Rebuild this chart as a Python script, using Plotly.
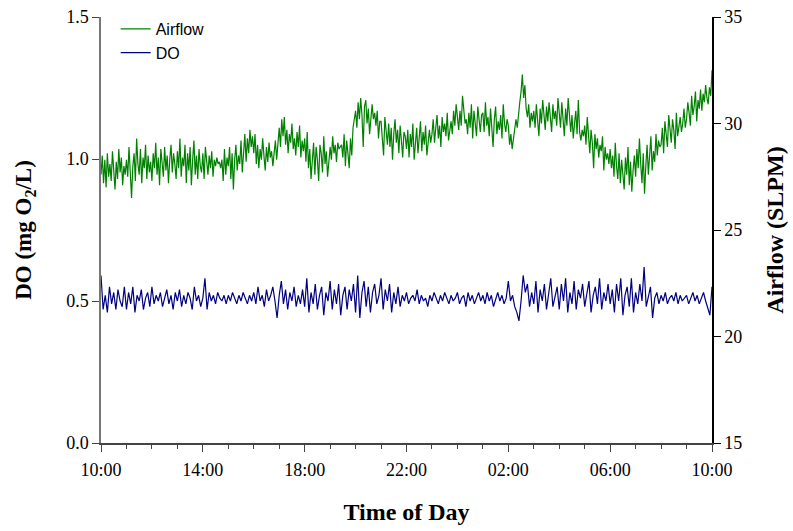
import plotly.graph_objects as go
import pandas as pd

# Airflow (SLPM), 3-minute samples from 10:00 to 10:00 next day (20 per hour)
airflow = [
    27.6, 28.5, 27.2, 28.3, 27.0, 28.6, 27.5, 28.1, 27.3, 28.7, 27.8, 26.9, 28.2, 27.4, 28.8, 27.7, 28.4, 27.1, 28.0, 27.6,
    28.3, 27.5, 28.9, 27.8, 26.5, 28.0, 28.6, 27.3, 29.3, 28.1, 27.6, 28.8, 27.2, 28.4, 27.9, 29.0, 27.4, 28.5, 27.7, 28.2,
    27.3, 28.6, 27.9, 29.1, 27.6, 28.4, 27.1, 28.8, 28.2, 27.5, 28.9, 27.8, 28.5, 27.2, 28.3, 29.0, 27.7, 28.6, 28.1, 27.4,
    28.7, 27.9, 29.3, 27.5, 28.4, 28.0, 29.0, 27.2, 28.6, 27.8, 28.9, 27.1, 28.3, 29.2, 27.6, 28.5, 27.4, 28.8, 28.0, 27.7,
    28.6, 27.4, 28.9, 28.1, 27.6, 28.5, 27.9, 28.7, 27.5, 28.3, 28.0, 28.4, 28.1, 28.2, 27.9, 28.3, 27.3, 28.8, 27.6, 28.4,
    28.0, 28.9, 27.4, 28.6, 26.9, 28.3, 29.0, 27.8, 28.5, 28.1, 29.2, 27.7, 28.8, 29.5, 28.2, 29.3, 28.6, 29.7, 28.9, 29.4,
    28.6, 29.5, 28.1, 29.0, 27.9, 28.8, 28.3, 29.3, 28.5, 27.8, 28.9, 28.2, 29.1, 28.4, 28.7, 28.0, 28.6, 29.2, 28.3, 29.0,
    29.8, 28.9, 30.2, 29.4, 30.3, 29.0, 29.7, 28.6, 29.5, 29.1, 30.0, 28.8, 29.3, 28.5, 29.6, 28.9, 29.9, 28.4, 29.2, 28.7,
    29.3, 28.2, 29.6, 27.9, 28.8, 27.4, 28.5, 29.1, 27.6, 28.9, 28.3, 27.3, 29.0, 28.6, 27.7, 29.4, 28.1, 28.7, 27.5, 28.4,
    28.9, 28.3, 29.4, 28.6, 29.0, 28.2, 29.1, 28.8, 28.9, 29.0, 28.4, 29.5, 28.0, 29.2, 28.6, 27.9, 29.3, 28.5, 29.8, 30.3,
    30.6, 29.8, 31.0, 30.2, 31.2, 30.4, 28.9, 30.8, 31.1, 30.0, 30.7, 29.5, 30.4, 30.9, 30.2, 30.5, 29.9, 30.6, 29.3, 30.1,
    30.1, 29.3, 28.5, 30.3, 29.6, 29.0, 30.0, 28.9, 29.8, 28.3, 29.5, 30.2, 29.1, 29.7, 28.6, 29.9, 29.2, 28.4, 29.6, 29.4,
    28.8, 29.7, 28.4, 29.5, 28.9, 30.0, 28.3, 29.2, 29.8, 28.6, 29.4, 30.1, 28.7, 29.6, 29.0, 29.9, 28.5, 29.3, 29.7, 29.1,
    29.5, 30.2, 29.1, 29.8, 30.4, 29.3, 29.9, 28.9, 30.3, 29.6, 30.0, 29.4, 30.5, 29.2, 29.8, 30.1, 29.5, 30.6, 29.9, 30.9,
    30.3, 29.7, 30.6, 29.9, 31.3, 30.4, 30.0, 30.2, 29.5, 30.5, 29.8, 30.9, 29.3, 30.6, 30.0, 29.4, 30.8, 30.1, 29.6, 30.4,
    30.5, 29.6, 31.0, 29.9, 30.3, 29.4, 30.7, 29.8, 28.9, 30.2, 30.8, 29.5, 30.1, 29.7, 30.4, 29.3, 30.9, 30.0, 29.6, 30.2,
    29.9, 29.0, 29.5, 28.8, 29.3, 29.7, 30.2, 29.8, 30.6, 31.0, 31.5, 32.3, 31.2, 31.8, 30.7, 30.3, 30.9, 29.8, 30.5, 30.1,
    30.6, 29.8, 30.9, 30.2, 29.4, 30.7, 30.0, 31.1, 30.3, 29.7, 30.8, 30.1, 31.0, 30.4, 29.6, 30.9, 30.2, 30.6, 29.9, 31.2,
    30.5, 29.8, 31.0, 30.1, 29.4, 30.7, 29.9, 31.2, 30.3, 29.6, 30.4, 29.3, 30.0, 30.6, 29.5, 31.1, 29.6, 29.2, 29.7, 29.4,
    29.9, 29.0, 30.3, 29.4, 28.6, 29.7, 29.1, 27.9, 29.5, 28.8, 29.3, 28.4, 29.0, 28.7, 29.4, 27.8, 28.9, 28.3, 28.6, 28.1,
    28.8, 27.9, 28.5, 27.5, 29.1, 28.0, 27.4, 28.6, 27.2, 28.3, 27.7, 26.9, 28.4, 27.6, 28.9, 27.1, 28.2, 26.8, 27.8, 28.5,
    27.5, 28.8, 27.9, 29.3, 28.1, 27.2, 28.6, 26.7, 28.0, 29.0, 27.6, 28.4, 29.4, 27.8, 28.7, 28.2, 29.5, 28.5, 29.2, 28.9,
    29.0, 29.8, 28.6, 30.1, 29.3, 28.9, 30.4, 29.5, 29.1, 30.2, 29.7, 28.8, 30.5, 29.4, 29.9, 30.3, 29.6, 30.0, 30.7, 29.8,
    30.2, 31.0, 30.5, 29.9, 31.3, 30.4, 30.8, 31.5, 30.1, 31.1, 30.7, 31.6, 30.6, 31.4, 31.0, 31.8, 31.2, 30.9, 31.7, 31.3,
    32.5,
]

# DO (mg O2/L), 5-minute samples from 10:00 to 10:00 next day (12 per hour)
do_vals = [
    0.59, 0.47, 0.52, 0.46, 0.55, 0.49, 0.53, 0.47, 0.54, 0.50, 0.48, 0.55,
    0.47, 0.53, 0.49, 0.55, 0.46, 0.52, 0.50, 0.54, 0.47, 0.51, 0.53, 0.48,
    0.55, 0.49, 0.52, 0.50, 0.53, 0.48, 0.51, 0.54, 0.49, 0.52, 0.47, 0.53,
    0.50, 0.54, 0.48, 0.52, 0.49, 0.53, 0.51, 0.47, 0.55, 0.50, 0.52, 0.48,
    0.51, 0.58, 0.47, 0.53, 0.50, 0.52, 0.49, 0.53, 0.51, 0.50, 0.52, 0.49,
    0.52, 0.50, 0.53, 0.51, 0.49, 0.52, 0.50, 0.53, 0.51, 0.49, 0.52, 0.50,
    0.53, 0.49, 0.55, 0.50, 0.52, 0.48, 0.54, 0.50, 0.52, 0.55, 0.50, 0.44,
    0.52, 0.57, 0.49, 0.54, 0.47, 0.53, 0.50, 0.55, 0.48, 0.52, 0.49, 0.54,
    0.48, 0.58, 0.46, 0.53, 0.49, 0.56, 0.47, 0.52, 0.55, 0.45, 0.53, 0.50,
    0.57, 0.47, 0.54, 0.49, 0.56, 0.45, 0.52, 0.55, 0.47, 0.54, 0.50, 0.56,
    0.46, 0.59, 0.44, 0.53, 0.57, 0.48, 0.55, 0.46, 0.53, 0.56, 0.49, 0.52,
    0.58, 0.47, 0.54, 0.50, 0.56, 0.46, 0.53, 0.49, 0.55, 0.48, 0.52, 0.50,
    0.53, 0.49, 0.51, 0.52, 0.50, 0.54, 0.49, 0.52, 0.50, 0.51, 0.48, 0.52,
    0.50, 0.53, 0.51, 0.49, 0.52, 0.50, 0.53, 0.51, 0.49, 0.52, 0.50, 0.51,
    0.53, 0.49, 0.51, 0.52, 0.48, 0.53, 0.50, 0.52, 0.49, 0.51, 0.53, 0.50,
    0.52, 0.49, 0.53, 0.50, 0.52, 0.48, 0.51, 0.53, 0.50, 0.52, 0.49, 0.51,
    0.57, 0.50, 0.52, 0.48, 0.46, 0.43, 0.50, 0.59, 0.53, 0.56, 0.48, 0.53,
    0.49, 0.57, 0.46, 0.54, 0.50, 0.56, 0.47, 0.53, 0.58, 0.48, 0.52, 0.55,
    0.47, 0.56, 0.50, 0.58, 0.46, 0.53, 0.49, 0.57, 0.47, 0.54, 0.51, 0.56,
    0.48, 0.53, 0.57, 0.46, 0.52, 0.55, 0.49, 0.58, 0.47, 0.53, 0.50, 0.56,
    0.49, 0.54, 0.46, 0.56, 0.50, 0.58, 0.45, 0.52, 0.55, 0.48, 0.58, 0.46,
    0.53, 0.49, 0.56, 0.50, 0.62, 0.48, 0.52, 0.55, 0.44, 0.51, 0.53, 0.49,
    0.52, 0.50, 0.53, 0.49, 0.51, 0.52, 0.50, 0.53, 0.49, 0.52, 0.50, 0.51,
    0.52, 0.49, 0.51, 0.53, 0.50, 0.52, 0.49, 0.51, 0.53, 0.50, 0.47, 0.45,
    0.55,
]

start = pd.Timestamp("2000-01-01 10:00")
end = pd.Timestamp("2000-01-02 10:00")
t_air = pd.date_range(start, end, periods=len(airflow))
t_do = pd.date_range(start, end, periods=len(do_vals))

serif = "Liberation Serif, Times New Roman, serif"

fig = go.Figure()
fig.add_trace(go.Scatter(x=t_air, y=airflow, name="Airflow", mode="lines",
                         line=dict(color="#008000", width=1.2), yaxis="y2"))
fig.add_trace(go.Scatter(x=t_do, y=do_vals, name="DO", mode="lines",
                         line=dict(color="#000080", width=1.2), yaxis="y"))

fig.update_layout(
    width=793, height=531,
    margin=dict(l=101, r=81, t=15, b=88),
    paper_bgcolor="white", plot_bgcolor="white",
    showlegend=True,
    legend=dict(x=0.024, y=1.012, xanchor="left", yanchor="top",
                bgcolor="rgba(0,0,0,0)", font=dict(family="Liberation Sans, Arial", size=16, color="black"),
                tracegroupgap=0, itemwidth=30),
    xaxis=dict(
        type="date", range=[start, end], automargin=False,
        tickformat="%H:%M", dtick=4 * 3600000, tick0=start,
        ticks="outside", ticklen=7, tickwidth=1, tickcolor="#444",
        minor=dict(dtick=3600000, ticks="outside", ticklen=4, tickcolor="#444", showgrid=False),
        showline=True, linecolor="#444", linewidth=1.5,
        showgrid=False, zeroline=False, ticklabelstandoff=3,
        tickfont=dict(family=serif, size=18, color="black"),
        title=dict(text="<b>Time of Day</b>", font=dict(family=serif, size=24, color="black"), standoff=24),
    ),
    yaxis=dict(
        range=[0, 1.5], tickvals=[0, 0.5, 1.0, 1.5], tickformat=".1f", automargin=False,
        ticks="outside", ticklen=7, tickcolor="#444",
        showline=True, linecolor="#777", linewidth=1.5,
        showgrid=False, zeroline=False,
        tickfont=dict(family=serif, size=18, color="black"),
        title=dict(text="<b>DO (mg O<sub>2</sub>/L)</b>", font=dict(family=serif, size=23, color="black"), standoff=28),
    ),
    yaxis2=dict(
        range=[15, 35], tickvals=[15, 20, 25, 30, 35], automargin=False,
        overlaying="y", side="right", anchor="x",
        ticks="outside", ticklen=7, tickcolor="black",
        showline=True, linecolor="black", linewidth=1.5,
        showgrid=False, zeroline=False,
        tickfont=dict(family=serif, size=18, color="black"),
        title=dict(text="<b>Airflow (SLPM)</b>", font=dict(family=serif, size=24, color="black"), standoff=25),
    ),
)

fig.write_html("out.html")
